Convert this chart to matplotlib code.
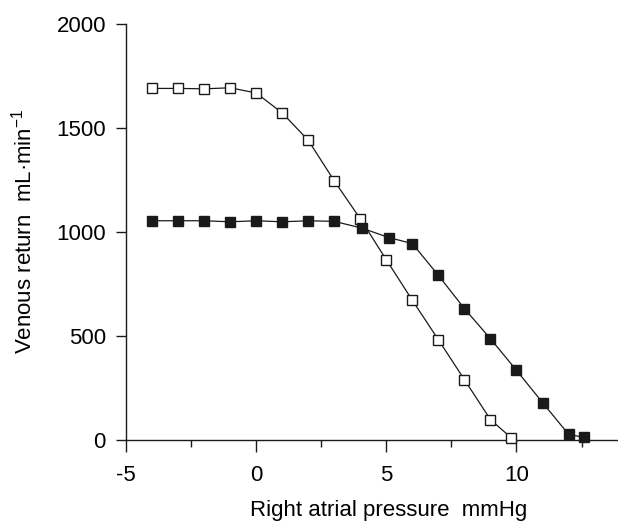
import numpy as np
import matplotlib
matplotlib.use('Agg')
import matplotlib.pyplot as plt
from matplotlib.ticker import MultipleLocator

plt.rcParams['font.family'] = ['Liberation Sans Narrow', 'Liberation Sans', 'DejaVu Sans']
plt.rcParams['font.size'] = 16

# Donnees
x_open = [-4, -3, -2, -1, 0, 1, 2, 3, 4, 5, 6, 7, 8, 9, 9.8]
y_open = [1690, 1690, 1688, 1693, 1668, 1572, 1440, 1245, 1062, 865, 670, 480, 288, 96, 8]

x_filled = [-4, -3, -2, -1, 0, 1, 2, 3, 4.05, 5.1, 6, 7, 8, 9, 10, 11, 12, 12.6]
y_filled = [1053, 1053, 1053, 1048, 1053, 1048, 1053, 1050, 1018, 972, 943, 790, 630, 485, 333, 178, 25, 10]

xticks = [-5, 0, 5, 10]
yticks = [0, 500, 1000, 1500, 2000]

fig = plt.figure(figsize=(6.18, 5.22), dpi=100)
ax = fig.add_axes([0.204, 0.158, 0.796, 0.796])

ax.plot(x_open, y_open, '-s', color='#1a1a1a', lw=0.9, ms=7,
        mfc='white', mec='#1a1a1a', mew=1.0, clip_on=False, zorder=3)
ax.plot(x_filled, y_filled, '-s', color='#1a1a1a', lw=0.9, ms=7,
        mfc='#1a1a1a', mec='#1a1a1a', mew=1.0, clip_on=False, zorder=4)

ax.set_xlim(-5, 13.9)
ax.set_ylim(0, 2000)
ax.set_xticks(xticks)
ax.set_xticklabels(['-5', '0', '5', '10'])
ax.xaxis.set_minor_locator(MultipleLocator(2.5))
ax.set_yticks(yticks)

for s in ['top', 'right']:
    ax.spines[s].set_visible(False)
for s in ['left', 'bottom']:
    ax.spines[s].set_linewidth(1.0)
    ax.spines[s].set_color('#1a1a1a')

ax.tick_params(axis='both', which='major', direction='out', length=8.5, width=1.0,
               color='#1a1a1a', labelsize=16)
ax.tick_params(axis='x', which='major', pad=10)
ax.tick_params(axis='x', which='minor', direction='out', length=5, width=1.0, color='#1a1a1a')
ax.tick_params(axis='y', which='major', length=7.5, pad=7)

ax.set_xlabel('Right atrial pressure  mmHg', fontsize=16)
ax.xaxis.set_label_coords(0.533, -0.145)
ax.set_ylabel('Venous return  mL·min$^{\\mathregular{-1}}$', fontsize=16)
ax.yaxis.set_label_coords(-0.183, 0.5)

plt.savefig('out.png', dpi=100)
